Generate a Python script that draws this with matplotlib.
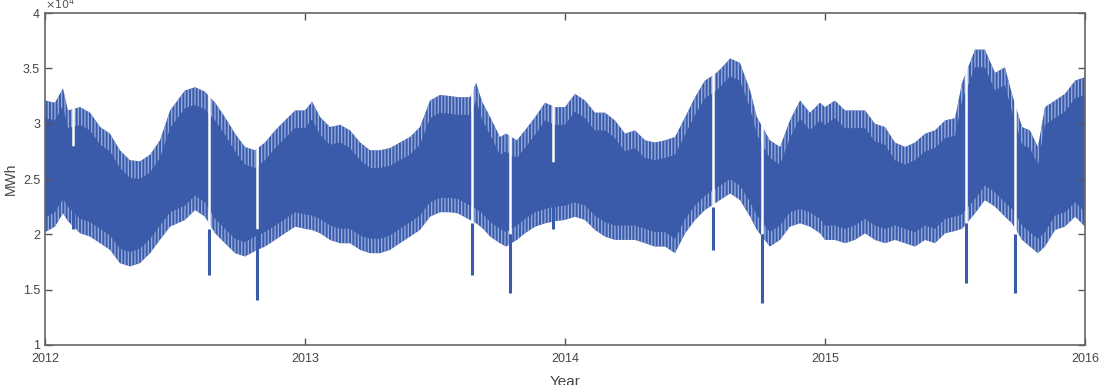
import numpy as np
import matplotlib
matplotlib.use("Agg")
from matplotlib import pyplot as plt

# time in decimal years, load envelopes in units of 1e4 MWh
t = [2012.000, 2012.038, 2012.069, 2012.088, 2012.135, 2012.173, 2012.212, 2012.250,
     2012.288, 2012.327, 2012.365, 2012.404, 2012.442, 2012.481, 2012.538, 2012.577,
     2012.615, 2012.654, 2012.692, 2012.731, 2012.769, 2012.808, 2012.846, 2012.885,
     2012.923, 2012.962, 2013.000, 2013.027, 2013.058, 2013.096, 2013.135, 2013.173,
     2013.212, 2013.250, 2013.288, 2013.327, 2013.365, 2013.404, 2013.442, 2013.481,
     2013.519, 2013.558, 2013.588, 2013.635, 2013.658, 2013.681, 2013.712, 2013.750,
     2013.773, 2013.815, 2013.846, 2013.885, 2013.923, 2013.962, 2014.000, 2014.038,
     2014.077, 2014.115, 2014.154, 2014.192, 2014.231, 2014.269, 2014.308, 2014.346,
     2014.385, 2014.423, 2014.462, 2014.500, 2014.538, 2014.577, 2014.596, 2014.635,
     2014.673, 2014.712, 2014.738, 2014.788, 2014.827, 2014.865, 2014.904, 2014.942,
     2014.981, 2015.000, 2015.038, 2015.077, 2015.115, 2015.154, 2015.192, 2015.231,
     2015.269, 2015.308, 2015.346, 2015.385, 2015.423, 2015.462, 2015.500, 2015.527,
     2015.577, 2015.615, 2015.654, 2015.692, 2015.719, 2015.758, 2015.788, 2015.819,
     2015.846, 2015.885, 2015.923, 2015.962, 2016.000]
upper = [3.21, 3.19, 3.32, 3.12, 3.15, 3.10, 2.97, 2.91,
         2.76, 2.67, 2.66, 2.72, 2.85, 3.12, 3.30, 3.33,
         3.29, 3.19, 3.06, 2.91, 2.79, 2.76, 2.83, 2.94,
         3.03, 3.12, 3.12, 3.20, 3.06, 2.97, 2.99, 2.94,
         2.83, 2.76, 2.76, 2.78, 2.83, 2.88, 2.97, 3.21,
         3.26, 3.25, 3.24, 3.24, 3.37, 3.20, 3.06, 2.88,
         2.91, 2.85, 2.94, 3.06, 3.19, 3.15, 3.15, 3.27,
         3.21, 3.10, 3.10, 3.03, 2.91, 2.94, 2.85, 2.83,
         2.85, 2.88, 3.06, 3.24, 3.39, 3.45, 3.49, 3.59,
         3.55, 3.30, 3.06, 2.85, 2.79, 3.03, 3.21, 3.10,
         3.19, 3.15, 3.21, 3.12, 3.12, 3.12, 3.00, 2.97,
         2.83, 2.79, 2.83, 2.91, 2.94, 3.03, 3.05, 3.37,
         3.67, 3.67, 3.46, 3.51, 3.27, 2.97, 2.94, 2.79,
         3.15, 3.21, 3.27, 3.39, 3.42]
lower = [2.02, 2.07, 2.19, 2.12, 2.01, 1.98, 1.92, 1.86,
         1.74, 1.71, 1.74, 1.83, 1.95, 2.07, 2.13, 2.22,
         2.16, 2.01, 1.92, 1.83, 1.80, 1.85, 1.89, 1.95,
         2.01, 2.07, 2.05, 2.04, 2.01, 1.95, 1.92, 1.92,
         1.86, 1.83, 1.83, 1.86, 1.92, 1.98, 2.04, 2.16,
         2.20, 2.20, 2.19, 2.13, 2.10, 2.06, 1.98, 1.92,
         1.89, 1.95, 2.01, 2.07, 2.10, 2.12, 2.13, 2.16,
         2.13, 2.04, 1.98, 1.95, 1.95, 1.95, 1.92, 1.89,
         1.89, 1.83, 2.01, 2.13, 2.22, 2.28, 2.31, 2.37,
         2.31, 2.16, 2.04, 1.89, 1.95, 2.07, 2.10, 2.07,
         2.01, 1.95, 1.95, 1.92, 1.95, 2.01, 1.95, 1.92,
         1.95, 1.92, 1.89, 1.95, 1.92, 2.01, 2.03, 2.05,
         2.19, 2.31, 2.25, 2.16, 2.10, 1.95, 1.89, 1.83,
         1.89, 2.04, 2.07, 2.16, 2.07]

# holidays / single low days: date, daily minimum, daily maximum
hol_t = [2012.108, 2012.631, 2012.815, 2013.642, 2013.788, 2013.954,
         2014.569, 2014.758, 2015.542, 2015.731]
hol_low = [2.05, 1.63, 1.41, 1.63, 1.47, 2.05, 1.86, 1.38, 1.56, 1.47]
hol_high = [2.80, 2.05, 2.05, 2.10, 2.00, 2.65, 2.25, 2.00, 2.10, 2.00]

blue = '#3a5ba9'
light = '#94aadc'

plt.rcParams['font.family'] = ['Liberation Sans', 'DejaVu Sans']
plt.rcParams['hatch.linewidth'] = 1.0

fig = plt.figure(figsize=(11.04, 3.85), dpi=100)
ax = fig.add_axes([0.0408, 0.1039, 0.9420, 0.8621])

t = np.array(t)
upper = np.array(upper)
lower = np.array(lower)

# solid band, then light weekend stripes along both edges
ax.fill_between(t, lower, upper, facecolor=blue, linewidth=0)
ax.fill_between(t, upper - 0.16, upper, facecolor='none', edgecolor=light,
                hatch='|||||', linewidth=0)
ax.fill_between(t, lower, lower + 0.13, facecolor='none', edgecolor=light,
                hatch='|||||', linewidth=0)

ax.vlines(hol_t, hol_high, 4.0, color='white', lw=1.8)
ax.vlines(hol_t, hol_low, hol_high, color=blue, lw=2.2)

ax.set_xlim(2012, 2016)
ax.set_ylim(1, 4)
ax.set_xticks([2012, 2013, 2014, 2015, 2016])
ax.set_xticklabels(['2012', '2013', '2014', '2015', '2016'])
ax.set_yticks([1, 1.5, 2, 2.5, 3, 3.5, 4])
ax.set_yticklabels(['1', '1.5', '2', '2.5', '3', '3.5', '4'])
ax.tick_params(direction='in', top=True, right=True, length=5, width=1,
               color='#555555', labelcolor='#444444', labelsize=9)
ax.tick_params(axis='x', pad=6)
for s in ax.spines.values():
    s.set_color('#666666')
    s.set_linewidth(1.2)

ax.text(0.0, 1.003, r'$\times10^{4}$', transform=ax.transAxes, fontsize=8,
        color='#555555', va='bottom', ha='left')
ax.set_ylabel('MWh', fontsize=10, color='#444444', labelpad=4)
fig.text(0.512, 0.008, 'Year', ha='center', va='center', fontsize=11,
         color='#444444')

fig.savefig('out.png', dpi=100)
